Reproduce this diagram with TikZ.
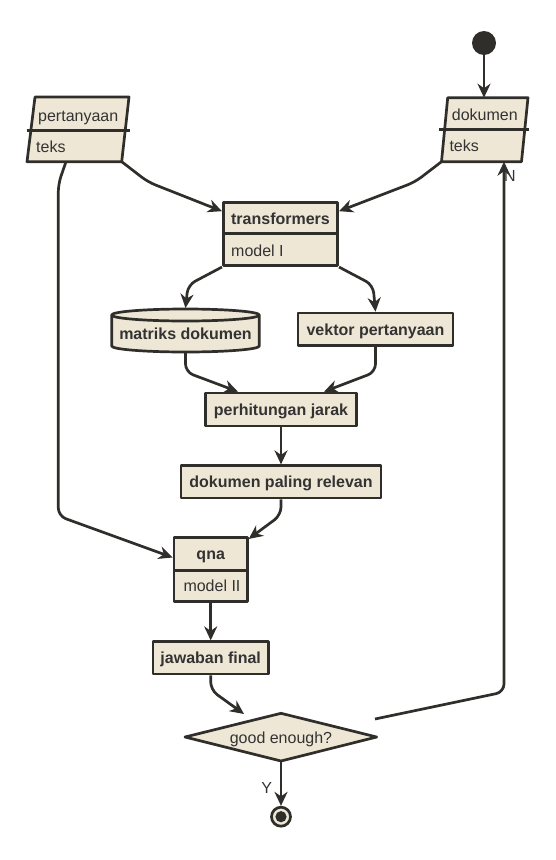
\documentclass[tikz,border=0pt]{standalone}
\usepackage{fontspec}
\setmainfont{Liberation Sans}
\usetikzlibrary{arrows.meta}
\definecolor{fillc}{RGB}{239,231,214}
\definecolor{linec}{RGB}{48,46,43}
\definecolor{textc}{RGB}{51,51,51}
\begin{document}
\begin{tikzpicture}[x=1pt,y=-1pt,
  ln/.style={draw=linec, line width=2.7pt, line join=round},
  box/.style={ln, fill=fillc, rectangle, inner sep=0pt},
  lbl/.style={text=textc, font=\fontsize{16}{19}\selectfont, inner sep=0pt, anchor=base},
  lbll/.style={lbl, anchor=base west},
  blbl/.style={text=textc, font=\fontsize{16}{19}\selectfont\bfseries, inner sep=0pt, anchor=base},
  conn/.style={draw=linec, line width=2.7pt, rounded corners=8pt, line join=round,
    -{Stealth[length=14pt,width=13pt,inset=4.5pt]}},
]
\useasboundingbox (0,0) rectangle (556,860);

% ---------- start ----------
\node[circle, fill=linec, minimum size=24pt, inner sep=0pt] (start) at (484,43) {};

% ---------- pertanyaan (parallelogram) ----------
\coordinate (perTL) at (35,97);
\coordinate (perTR) at (129,97);
\coordinate (perBR) at (121.7,161.7);
\coordinate (perBL) at (27,161.7);
\coordinate (perOut) at (66,161.7);
\fill[fillc] (perTL) -- (perTR) -- (perBR) -- (perBL) -- cycle;
\draw[ln] (perTL) -- (perTR) -- (perBR) -- (perBL) -- cycle;
\draw[ln] (26.7,130.7) -- (130,130.7);
\node[lbll] (perA) at (38,121) {pertanyaan};
\node[lbll] (perB) at (36,152) {teks};

% ---------- dokumen (parallelogram) ----------
\coordinate (dokTL) at (447.7,97.7);
\coordinate (dokTR) at (528,97.7);
\coordinate (dokBR) at (521.5,161.7);
\coordinate (dokBL) at (441.5,161.7);
\coordinate (dokTop) at (484,97.7);
\coordinate (dokIn) at (504,161.7);
\fill[fillc] (dokTL) -- (dokTR) -- (dokBR) -- (dokBL) -- cycle;
\draw[ln] (dokTL) -- (dokTR) -- (dokBR) -- (dokBL) -- cycle;
\draw[ln] (439,129.3) -- (529,129.3);
\node[lbll] (dokA) at (451.7,120) {dokumen};
\node[lbll] (dokB) at (449.3,151) {teks};

% ---------- transformers ----------
\node[box, minimum width=114.4pt, minimum height=63pt] (tf) at (280.5,234.2) {};
\draw[ln] (223.3,233.3) -- (337.7,233.3);
\node[blbl] (tfA) at (280.5,224) {transformers};
\node[lbll] (tfB) at (231,256) {model I};

% ---------- matriks dokumen (cylinder) ----------
\path[ln, fill=fillc] (111.7,315) -- (111.7,346)
   arc[start angle=180, end angle=360, x radius=73.8pt, y radius=6pt]
   -- (259.3,315)
   arc[start angle=0, end angle=180, x radius=73.8pt, y radius=6pt] -- cycle;
\draw[ln] (111.7,315) arc[start angle=180, end angle=360, x radius=73.8pt, y radius=6pt];
\coordinate (mdTop) at (185.5,308);
\coordinate (mdBot) at (185.5,352);
\node[blbl] (md) at (185.5,339.3) {matriks dokumen};

% ---------- vektor pertanyaan ----------
\node[box, minimum width=155pt, minimum height=32.7pt] (vk) at (375.5,329.4) {};
\node[blbl] (vkA) at (375.5,335) {vektor pertanyaan};

% ---------- perhitungan jarak ----------
\node[box, minimum width=151pt, minimum height=33pt] (pj) at (281,409.5) {};
\node[blbl] (pjA) at (281,415) {perhitungan jarak};

% ---------- dokumen paling relevan ----------
\node[box, minimum width=200pt, minimum height=32.3pt] (dr) at (281,481.9) {};
\node[blbl] (drA) at (281,487) {dokumen paling relevan};

% ---------- qna ----------
\node[box, minimum width=73.3pt, minimum height=64.4pt] (qna) at (210.7,569.5) {};
\draw[ln] (174,570.7) -- (247.3,570.7);
\node[blbl] (qnaA) at (210.7,559.3) {qna};
\node[lbll] (qnaB) at (183.3,591.7) {model II};

% ---------- jawaban final ----------
\node[box, minimum width=115.6pt, minimum height=32.3pt] (jf) at (210.7,657.9) {};
\node[blbl] (jfA) at (210.7,663.3) {jawaban final};

% ---------- decision ----------
\coordinate (diaL) at (185,737);
\coordinate (diaT) at (281,713.3);
\coordinate (diaR) at (376.7,737);
\coordinate (diaB) at (281,761);
\draw[ln, fill=fillc] (diaL) -- (diaT) -- (diaR) -- (diaB) -- cycle;
\node[lbl] (dia) at (281,743.3) {good enough?};
\coordinate (diaIn) at (244,714);
\coordinate (nStart) at (375,719);

% ---------- end ----------
\node[circle, draw=linec, line width=2.7pt, fill=fillc, minimum size=19pt, inner sep=0pt] (stop) at (281,816.7) {};
\fill[linec] (stop.center) circle[radius=5.6pt];

% ---------- connectors ----------
\draw[conn] (start) -- (dokTop);
\draw[conn] (perBR) -- (148,182) -- ([yshift=23pt]tf.west);
\draw[conn] (dokBL) -- (415,182) -- ([yshift=23pt]tf.east);
\draw[conn] (tf.south west) -- (188,285) -- (mdTop);
\draw[conn] (tf.south east) -- (373,285) -- (vk.north);
\draw[conn] (mdBot) -- (185.5,372) -- ([xshift=-43pt]pj.north);
\draw[conn] (vk.south) -- (375.5,372) -- ([xshift=43pt]pj.north);
\draw[conn] (pj.south) -- (dr.north);
\draw[conn] (dr.south) -- (281,515) -- ([yshift=-3pt]qna.north east);
\draw[conn] (perOut) -- (58.3,184) -- (58.3,516) -- ([yshift=12pt]qna.west);
\draw[conn] (qna.south) -- (jf.north);
\draw[conn] (jf.south) -- (210.7,690) -- (diaIn);
\draw[conn] (nStart) -- (504,692) -- (dokIn);
\draw[conn] (diaB) -- (stop.north);

% ---------- guard labels ----------
\node[lbl] (nLbl) at (510,181.7) {N};
\node[lbl] (yLbl) at (266.7,793) {Y};
\end{tikzpicture}
\end{document}
